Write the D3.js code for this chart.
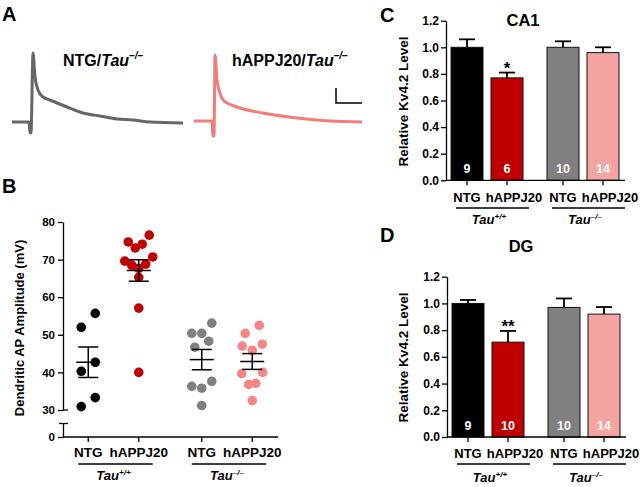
<!DOCTYPE html>
<html><head><meta charset="utf-8">
<script src="https://cdn.jsdelivr.net/npm/d3@7"></script>
<style>
body{margin:0;background:#fff}
text{font-family:"Liberation Sans",Arial,Helvetica,sans-serif;font-weight:bold;fill:#000}
</style>
</head><body>
<svg id="chart" width="640" height="487"></svg>
<script>
// ---------------- DATA ----------------
const genotypes = ["NTG", "hAPPJ20"];
const tauGroups = ["+/+", "\u2013/\u2013"];

// Panel A: example dendritic AP traces (time ms, voltage mV)
const traceNTG_t = [0, 17, 18, 19, 21, 23, 26, 31, 38, 55, 71, 88, 105, 121, 138, 171];
const traceNTG_v = [0, 0, -11, -11, 69, 45, 32, 25, 22, 15, 9, 6, 3, 2, 0, -1];
const traceAPP_t = [0, 18, 19, 20, 21, 23, 26, 29, 43, 69, 103, 136, 168];
const traceAPP_v = [1, 1, -14, -14, 67, 42, 29, 22, 15, 9, 4, 1, 0];
const scaleBarMs = 26, scaleBarMv = 15;

// Panel B: dendritic AP amplitude (mV)
const ampNTGwt = [55.7, 52.0, 42.7, 40.3, 33.3, 30.9];
const ampAPPwt = [76.5, 74.7, 74.1, 73.1, 70.7, 69.6, 68.8, 68.5, 67.7, 65.3, 57.1, 40.0];
const ampNTGko = [53.1, 50.4, 50.4, 48.3, 46.7, 37.6, 36.3, 35.8, 31.2];
const ampAPPko = [52.5, 50.4, 47.5, 47.0, 45.9, 40.0, 39.7, 37.1, 36.8, 32.5];
const ampMean = [42.7, 67.1, 43.4, 42.9];
const ampSem = [4.05, 2.85, 2.7, 2.1];
const ampTicks = [30, 40, 50, 60, 70, 80];

// Panel C: CA1 relative Kv4.2
const ca1Mean = [1.0, 0.77, 1.0, 0.96];
const ca1Err = [0.06, 0.04, 0.045, 0.04];
const ca1N = ["9", "6", "10", "14"];
const ca1Sig = ["", "*", "", ""];

// Panel D: DG relative Kv4.2
const dgMean = [1.0, 0.71, 0.97, 0.92];
const dgErr = [0.026, 0.084, 0.067, 0.053];
const dgN = ["9", "10", "10", "14"];
const dgSig = ["", "**", "", ""];

const kvTicks = [0, 0.2, 0.4, 0.6, 0.8, 1.0, 1.2];

// ---------------- STYLE ----------------
const barColors = ["#000000", "#c00000", "#808080", "#f5a4a4"];
const dotColors = ["#000000", "#c00000", "#808080", "#f38787"];
const traceColors = ["#666666", "#f27c7c"];

const svg = d3.select("#chart");

function tauText(g, x, y, sup, size) {
  const t = g.append("text").attr("x", x).attr("y", y).attr("text-anchor", "middle")
    .style("font-size", size + "px");
  t.append("tspan").style("font-style", "italic").text("Tau");
  t.append("tspan").style("font-style", "italic").style("font-size", (size * 0.62) + "px")
    .attr("dy", -size * 0.42).text(sup);
  return t;
}

// Panel letters
[["A", 2, 21], ["B", 2, 193], ["C", 380, 22], ["D", 380, 242]].forEach(([t, x, y]) => {
  svg.append("text").attr("x", x).attr("y", y).style("font-size", "20px").text(t);
});

// ---------------- PANEL A ----------------
{
  const g = svg.append("g");
  const yA = d3.scaleLinear().domain([0, 69]).range([122, 53]);
  const xA1 = d3.scaleLinear().domain([0, 171]).range([12, 183]);
  const xA2 = d3.scaleLinear().domain([0, 171]).range([194, 365]);
  const mk = (xs) => d3.line().x(d => xs(d[0])).y(d => yA(d[1])).curve(d3.curveMonotoneX);
  g.append("path").datum(d3.zip(traceNTG_t, traceNTG_v)).attr("d", mk(xA1))
    .attr("fill", "none").attr("stroke", traceColors[0]).attr("stroke-width", 3).attr("stroke-linejoin", "round");
  g.append("path").datum(d3.zip(traceAPP_t, traceAPP_v)).attr("d", mk(xA2))
    .attr("fill", "none").attr("stroke", traceColors[1]).attr("stroke-width", 3).attr("stroke-linejoin", "round");

  const l1 = g.append("text").attr("x", 63).attr("y", 66).style("font-size", "16px");
  l1.append("tspan").text("NTG/");
  l1.append("tspan").style("font-style", "italic").text("Tau");
  l1.append("tspan").style("font-style", "italic").style("font-size", "10px").attr("dy", -7).text("\u2013/\u2013");
  const l2 = g.append("text").attr("x", 232).attr("y", 66).style("font-size", "16px");
  l2.append("tspan").text("hAPPJ20/");
  l2.append("tspan").style("font-style", "italic").text("Tau");
  l2.append("tspan").style("font-style", "italic").style("font-size", "10px").attr("dy", -7).text("\u2013/\u2013");

  // scale bar
  const sx = 336, sy = 103;
  const h = yA(0) - yA(scaleBarMv), w = xA1(scaleBarMs) - xA1(0);
  g.append("path").attr("d", `M${sx},${sy - h}V${sy}H${sx + w}`)
    .attr("fill", "none").attr("stroke", "#000").attr("stroke-width", 1.5);
}

// ---------------- PANEL B ----------------
{
  const g = svg.append("g");
  const axX = 63, axY = 437;
  const yB = d3.scaleLinear().domain([30, 80]).range([410, 222]);
  const yB0 = d3.scaleLinear().domain([0, 3.6]).range([437, 423.5]);
  const xG = d3.scaleBand().domain(tauGroups).range([56.75, 283.75]);
  const xI = d3.scalePoint().domain(genotypes).range([0, xG.bandwidth()]).padding(0.624);
  const groups = [
    { vals: ampNTGwt, tau: tauGroups[0], gen: genotypes[0] },
    { vals: ampAPPwt, tau: tauGroups[0], gen: genotypes[1] },
    { vals: ampNTGko, tau: tauGroups[1], gen: genotypes[0] },
    { vals: ampAPPko, tau: tauGroups[1], gen: genotypes[1] }
  ];
  const cx = (d) => xG(d.tau) + xI(d.gen);

  // axes
  const ax1 = g.append("g").attr("transform", `translate(${axX},0)`)
    .call(d3.axisLeft(yB).tickValues(ampTicks).tickSize(5).tickSizeOuter(0).tickPadding(3));
  const ax0 = g.append("g").attr("transform", `translate(${axX},0)`)
    .call(d3.axisLeft(yB0).tickValues([0]).tickFormat(d3.format("d")).tickSize(5).tickSizeOuter(0).tickPadding(3));
  [ax1, ax0].forEach(a => {
    a.selectAll("path,line").attr("stroke", "#000").attr("stroke-width", 1.3);
    a.selectAll("text").style("font-size", "11.5px").style("font-family", null).attr("fill", "#000");
  });
  g.append("line").attr("x1", axX).attr("x2", axX + 5).attr("y1", yB(30)).attr("y2", yB(30))
    .attr("stroke", "#000").attr("stroke-width", 1.3);
  g.append("line").attr("x1", axX - 4).attr("x2", axX + 5).attr("y1", yB0(3.6)).attr("y2", yB0(3.6))
    .attr("stroke", "#000").attr("stroke-width", 1.3);
  g.append("line").attr("x1", axX).attr("x2", 278).attr("y1", axY).attr("y2", axY)
    .attr("stroke", "#000").attr("stroke-width", 1.3);
  g.selectAll(".xt").data(groups).join("line")
    .attr("x1", cx).attr("x2", cx).attr("y1", axY).attr("y2", axY + 5)
    .attr("stroke", "#000").attr("stroke-width", 1.3);

  // category labels
  g.selectAll(".cl").data(groups).join("text")
    .attr("x", cx).attr("y", 457).attr("text-anchor", "middle").style("font-size", "13.5px")
    .text(d => d.gen);
  tauGroups.forEach(t => {
    g.append("line").attr("x1", xG(t) + xI(genotypes[0]) - 10).attr("x2", xG(t) + xI(genotypes[1]) + 14)
      .attr("y1", 464).attr("y2", 464).attr("stroke", "#000").attr("stroke-width", 1.5);
    tauText(g, xG(t) + xG.bandwidth() / 2, 480, t, 13);
  });

  // y label
  g.append("text").attr("transform", "translate(19,328) rotate(-90)").attr("text-anchor", "middle")
    .attr("dy", "0.35em").style("font-size", "13px").text("Dendritic AP Amplitude (mV)");

  // dots: row-based scatter spread
  groups.forEach((d, gi) => {
    const pts = d.vals.map(v => ({ v, y: yB(v) })).sort((a, b) => a.y - b.y);
    const rows = [];
    pts.forEach(p => {
      const last = rows[rows.length - 1];
      if (last && p.y - last[0].y < 16) last.push(p); else rows.push([p]);
    });
    rows.forEach(row => {
      const n = row.length;
      const S = n === 2 ? 14 : n === 3 ? 10 : 7;
      const slots = d3.range(n).map(i => (i - (n - 1) / 2) * S);
      const order = [];
      let lo = 0, hi = n - 1;
      while (lo <= hi) { order.push(hi--); if (lo <= hi) order.push(lo++); }
      row.forEach((p, i) => { p.dx = slots[order[i]]; });
    });
    g.selectAll(null).data(pts).join("circle")
      .attr("cx", p => cx(d) + p.dx).attr("cy", p => p.y).attr("r", 4.8)
      .attr("fill", dotColors[gi]);
    const m = ampMean[gi], s = ampSem[gi], x = cx(d);
    const eg = g.append("g").attr("stroke", "#000").attr("stroke-width", 1.5);
    eg.append("line").attr("x1", x).attr("x2", x).attr("y1", yB(m - s)).attr("y2", yB(m + s));
    eg.append("line").attr("x1", x - 12).attr("x2", x + 12).attr("y1", yB(m)).attr("y2", yB(m));
    [m - s, m + s].forEach(v => eg.append("line").attr("x1", x - 10).attr("x2", x + 10)
      .attr("y1", yB(v)).attr("y2", yB(v)));
  });
}

// ---------------- PANELS C & D ----------------
function barPanel(cfg) {
  const g = svg.append("g");
  const y = d3.scaleLinear().domain([0, 1.2]).range([cfg.y0, cfg.y12]);
  const xG = d3.scaleBand().domain(tauGroups).range(cfg.xr);
  const xI = d3.scaleBand().domain(genotypes).range([0, xG.bandwidth()]).paddingInner(0.2).paddingOuter(0.3);
  const rows = cfg.means.map((m, i) => ({
    m, e: cfg.errs[i], n: cfg.ns[i], sig: cfg.sigs[i],
    tau: tauGroups[Math.floor(i / 2)], gen: genotypes[i % 2], i
  }));
  const bx = d => xG(d.tau) + xI(d.gen);
  const bc = d => bx(d) + xI.bandwidth() / 2;

  // bars
  g.selectAll(null).data(rows).join("rect")
    .attr("x", bx).attr("width", xI.bandwidth())
    .attr("y", d => y(d.m)).attr("height", d => y(0) - y(d.m))
    .attr("fill", d => barColors[d.i]).attr("stroke", "#111").attr("stroke-width", 1);
  // error bars
  const eg = g.append("g").attr("stroke", "#000").attr("stroke-width", 1.8);
  rows.forEach(d => {
    eg.append("line").attr("x1", bc(d)).attr("x2", bc(d)).attr("y1", y(d.m)).attr("y2", y(d.m + d.e));
    eg.append("line").attr("x1", bc(d) - 8).attr("x2", bc(d) + 8).attr("y1", y(d.m + d.e)).attr("y2", y(d.m + d.e));
  });
  // significance
  g.selectAll(null).data(rows.filter(d => d.sig)).join("text")
    .attr("x", bc).attr("y", d => y(d.m + d.e) + 1).attr("text-anchor", "middle")
    .style("font-size", "17px").text(d => d.sig);
  // n labels
  g.selectAll(null).data(rows).join("text")
    .attr("x", bc).attr("y", y(0) - 7).attr("text-anchor", "middle")
    .style("font-size", "12.5px").style("fill", "#fff").text(d => d.n);

  // axes
  const ax = g.append("g").attr("transform", `translate(${cfg.ax},0)`)
    .call(d3.axisLeft(y).tickValues(kvTicks).tickFormat(d3.format(".1f")).tickSize(5).tickSizeOuter(0).tickPadding(2));
  ax.selectAll("path,line").attr("stroke", "#000").attr("stroke-width", 1.3);
  ax.selectAll("text").style("font-size", "12px").style("font-family", null).attr("fill", "#000");
  g.append("line").attr("x1", cfg.ax).attr("x2", cfg.ax + 179).attr("y1", y(0)).attr("y2", y(0))
    .attr("stroke", "#000").attr("stroke-width", 1.3);
  g.selectAll(null).data(rows).join("line")
    .attr("x1", bc).attr("x2", bc).attr("y1", y(0)).attr("y2", y(0) + 5)
    .attr("stroke", "#000").attr("stroke-width", 1.3);

  // category labels
  g.selectAll(null).data(rows).join("text")
    .attr("x", d => bc(d) + (d.gen === genotypes[1] ? 7 : 0)).attr("y", cfg.catY)
    .attr("text-anchor", "middle").style("font-size", "13px").text(d => d.gen);
  tauGroups.forEach(t => {
    const c0 = xG(t) + xI(genotypes[0]) + xI.bandwidth() / 2;
    const c1 = xG(t) + xI(genotypes[1]) + xI.bandwidth() / 2;
    g.append("line").attr("x1", c0 - 11).attr("x2", c1 + 22).attr("y1", cfg.catY + 6).attr("y2", cfg.catY + 6)
      .attr("stroke", "#000").attr("stroke-width", 1.5);
    tauText(g, xG(t) + xG.bandwidth() / 2 + 2, cfg.tauY, t, 13);
  });

  // title & y label
  g.append("text").attr("x", cfg.titleX).attr("y", cfg.titleY).attr("text-anchor", "middle")
    .style("font-size", "16.5px").text(cfg.title);
  g.append("text").attr("transform", `translate(403,${cfg.labY}) rotate(-90)`).attr("text-anchor", "middle")
    .attr("dy", "0.35em").style("font-size", "13.5px").text("Relative Kv4.2 Level");
}

barPanel({ means: ca1Mean, errs: ca1Err, ns: ca1N, sigs: ca1Sig, title: "CA1",
  y0: 180.3, y12: 20.7, xr: [439, 631], ax: 446, catY: 202, tauY: 224,
  titleX: 523, titleY: 26, labY: 101.5 });
barPanel({ means: dgMean, errs: dgErr, ns: dgN, sigs: dgSig, title: "DG",
  y0: 437, y12: 276.7, xr: [440, 632], ax: 447, catY: 458, tauY: 482,
  titleX: 521, titleY: 252, labY: 357.5 });
</script>
</body></html>
